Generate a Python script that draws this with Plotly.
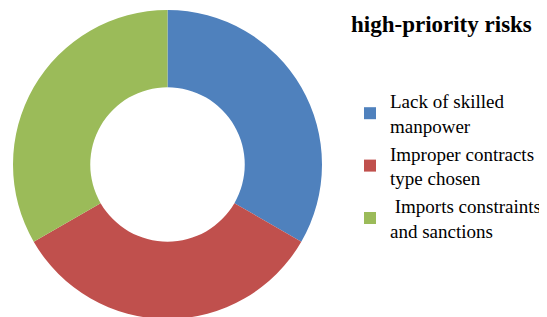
import plotly.graph_objects as go

labels = ["Lack of skilled<br>manpower", "Improper contracts<br>type chosen", " Imports constraints<br>and sanctions"]
values = [1, 1, 1]
colors = ["#4F81BD", "#C0504D", "#9BBB59"]
title_text = "high-priority risks"

W, H = 547, 317
OFF = 8  # page body margin offset
SERIF = "Liberation Serif, Times New Roman, serif"

def px(x):
    return (x - OFF) / W

def py(y):
    return 1 - (y - OFF) / H

fig = go.Figure(go.Pie(
    labels=labels, values=values, hole=0.5, sort=False, direction="clockwise",
    rotation=0, textinfo="none", hoverinfo="label+percent",
    marker=dict(colors=colors, line=dict(width=0)),
    domain=dict(x=[px(13), px(322)], y=[py(319), py(10)]),
))
fig.update_layout(
    width=W, height=H, margin=dict(l=0, r=0, t=0, b=0),
    paper_bgcolor="white", plot_bgcolor="white",
    showlegend=True,
    legend=dict(x=px(350), y=py(82), xanchor="left", yanchor="top",
                font=dict(family=SERIF, size=19, color="black"),
                itemwidth=30, bgcolor="rgba(0,0,0,0)"),
    annotations=[dict(text="<b>" + title_text + "</b>", x=px(441), y=py(24), xref="paper", yref="paper",
                      xanchor="center", yanchor="middle", showarrow=False,
                      font=dict(family=SERIF, size=23, color="black"))],
)
fig.write_html("out.html")
